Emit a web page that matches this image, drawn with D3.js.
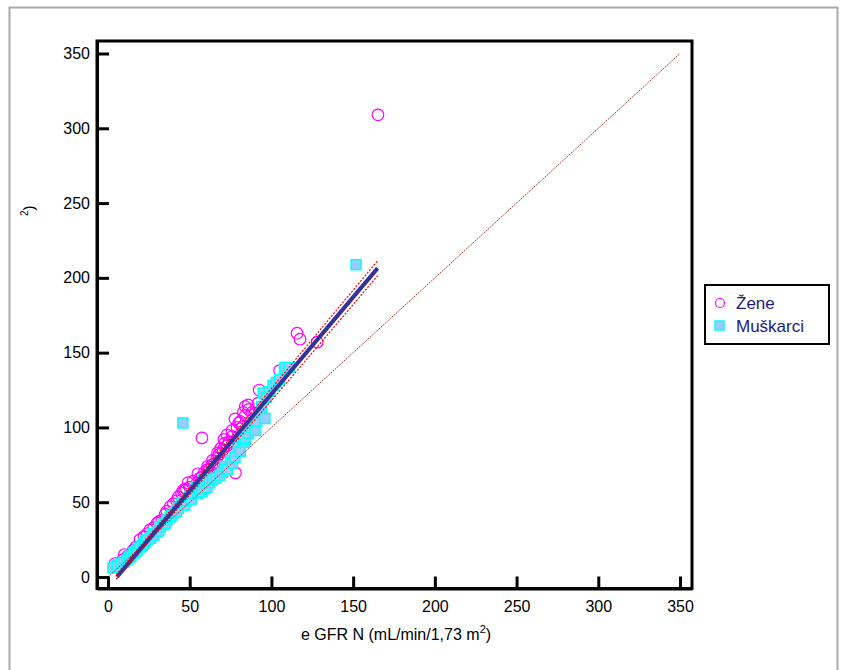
<!DOCTYPE html>
<html>
<head>
<meta charset="utf-8">
<script src="https://cdn.jsdelivr.net/npm/d3@7"></script>
<style>
  body { margin: 0; background: #fff; }
  svg { display: block; font-family: "Liberation Sans", Arial, Helvetica, sans-serif; }
</style>
</head>
<body>
<svg id="chart1"></svg>
<script>
// tick values on both axes
let tickVals = [0, 50, 100, 150, 200, 250, 300, 350];

// Zene (women): x = eGFR N, y = measured
let zeneX = [4.3, 7, 9, 10, 12, 15.5, 17, 19.6, 22, 24, 25.7, 28, 30, 31, 33, 35, 36, 38, 40, 42, 43, 45, 47, 46, 48, 49, 50, 52, 54.5, 55, 56, 57.5, 59, 60.6, 61, 62, 63.6, 64, 65, 66.7, 67, 68, 69, 70.4, 71, 71.6, 72.8, 73, 74, 75.9, 76, 77.7, 79, 80, 81, 82, 82.8, 84, 84, 85.8, 86, 88, 91.8, 92.5, 57.5, 78, 105, 115.7, 117.5, 128, 165.2];
let zeneY = [9, 8, 11.4, 15, 14, 18, 20, 25, 27, 29, 31.5, 33, 36, 37, 38, 42, 44, 47, 49, 51, 53.5, 56, 58, 58, 59, 63, 60, 64, 63, 69, 66, 67, 70, 71.6, 74, 72, 75, 78, 76, 79.6, 83, 82, 86, 85, 92, 89.6, 95, 88, 90, 98, 94, 105.7, 100, 103, 104, 100, 110, 108, 114, 115, 112, 110, 116, 125, 93, 69.6, 138, 163, 159, 157, 309];

// Muskarci (men)
let muskX = [3, 5.5, 6, 8, 10, 11.6, 13, 14, 15.5, 17, 18, 19.6, 21, 22, 23, 24, 26, 27.5, 28, 30, 31, 32, 34, 35, 36, 38, 39, 41, 42, 43, 45, 47, 48, 50, 51, 52, 54, 55, 56, 58, 57.5, 59, 60.5, 62, 64, 66, 68.5, 70, 71.6, 73, 75, 76, 77.7, 79.6, 81, 83, 84, 84, 86, 88, 90, 91, 94, 94, 95, 96, 97, 99, 101, 103, 105, 108, 108.5, 111, 45.8, 151.8];
let muskY = [6, 8, 7, 9, 10, 11.4, 13, 14, 16, 17, 18, 20, 21, 22, 24, 25, 26, 29, 28, 30, 31, 33.5, 35, 36, 38, 40, 41, 43, 44, 46, 49.5, 48, 51, 54, 52, 56, 60, 56, 58, 65, 57, 59, 60, 63, 65, 66, 68, 70, 74, 72, 78, 76, 80, 87, 84, 90, 92, 93, 96, 100, 98, 104, 110, 114, 123, 106, 120, 124, 128, 130, 132, 139, 140, 140, 103, 208.8];

// fitted line and its confidence band, read at a few x values
let fitX = [5.5, 165];
let fitY = [0, 206.5];
let bandX = [5, 50, 100, 165];
let bandUpper = [1.5, 60, 126, 211.5];
let bandLower = [-1.5, 55, 118, 201.5];
let identX = [0, 350];

let w = 843;
let h = 670;
let svg = d3.select('#chart1').attr('width', w).attr('height', h);

let xScale = d3.scaleLinear().domain([-6.73, 357.34]).range([97, 692]);
let yScale = d3.scaleLinear().domain([-7.69, 358.36]).range([588.5, 41]);

// outer grey frame
svg.append('rect')
  .attr('x', 9.5).attr('y', 7.5)
  .attr('width', 828).attr('height', 680)
  .attr('fill', 'none')
  .attr('stroke', '#aaaaaa')
  .attr('stroke-width', 2);

// plot frame
svg.append('rect')
  .attr('x', 97).attr('y', 41)
  .attr('width', 692 - 97).attr('height', 588.5 - 41)
  .attr('fill', 'none')
  .attr('stroke', '#000')
  .attr('stroke-width', 3);

let line = d3.line().x((d) => xScale(d[0])).y((d) => yScale(d[1]));

// circles first, squares over them
svg.append('g').selectAll('circle')
  .data(d3.zip(zeneX, zeneY))
  .enter()
  .append('circle')
  .attr('cx', (d) => xScale(d[0]))
  .attr('cy', (d) => yScale(d[1]))
  .attr('r', 5.8)
  .attr('fill', 'none')
  .attr('stroke', '#ff00ff')
  .attr('stroke-width', 1.2);

let sq = 10;
svg.append('g').selectAll('rect')
  .data(d3.zip(muskX, muskY))
  .enter()
  .append('rect')
  .attr('x', (d) => xScale(d[0]) - sq / 2)
  .attr('y', (d) => yScale(d[1]) - sq / 2)
  .attr('width', sq)
  .attr('height', sq)
  .attr('fill', '#99ccff')
  .attr('stroke', '#00ffff')
  .attr('stroke-width', 1.5);

// identity line
svg.append('path')
  .datum(identX.map((v) => [v, v]))
  .attr('d', line)
  .attr('fill', 'none')
  .attr('stroke', '#9b2c2c')
  .attr('stroke-width', 1)
  .attr('stroke-dasharray', '1.5,1');

// regression line
svg.append('path')
  .datum(d3.zip(fitX, fitY))
  .attr('d', line)
  .attr('fill', 'none')
  .attr('stroke', '#333399')
  .attr('stroke-width', 4);

// confidence band
[bandUpper, bandLower].forEach((b) => {
  svg.append('path')
    .datum(d3.zip(bandX, b))
    .attr('d', line.curve(d3.curveMonotoneX))
    .attr('fill', 'none')
    .attr('stroke', '#ff0000')
    .attr('stroke-width', 1.2)
    .attr('stroke-dasharray', '2,1.5');
});

// AXES
let xAxis = d3.axisBottom(xScale).tickValues(tickVals).tickSize(-12).tickSizeOuter(0).tickPadding(12);
let yAxis = d3.axisLeft(yScale).tickValues(tickVals).tickSize(-12).tickSizeOuter(0).tickPadding(7);

let xAxisGroup = svg.append('g')
  .attr('transform', 'translate(0, 588.5)')
  .call(xAxis);
let yAxisGroup = svg.append('g')
  .attr('transform', 'translate(97, 0)')
  .call(yAxis);

[xAxisGroup, yAxisGroup].forEach((g) => {
  g.select('.domain').attr('stroke-width', 3);
  g.selectAll('.tick line').attr('stroke-width', 3);
  g.selectAll('.tick text').attr('font-size', 16).attr('fill', '#000')
    .attr('font-family', '"Liberation Sans", Arial, sans-serif');
});

// axis titles
let xt = svg.append('text')
  .attr('x', 396).attr('y', 640)
  .attr('text-anchor', 'middle')
  .attr('font-size', 16);
xt.append('tspan').text('e GFR N (mL/min/1,73 m');
xt.append('tspan').attr('font-size', 11).attr('dy', -7).text('2');
xt.append('tspan').attr('dy', 7).text(')');

let yt = svg.append('text')
  .attr('transform', 'translate(34, 216) rotate(-90)')
  .attr('font-size', 15);
yt.append('tspan').attr('font-size', 10).attr('dy', -6).text('2');
yt.append('tspan').attr('dy', 6).text(')');

// legend
let legend = svg.append('g').attr('transform', 'translate(705, 285)');
legend.append('rect')
  .attr('width', 124).attr('height', 59)
  .attr('fill', '#fff')
  .attr('stroke', '#000')
  .attr('stroke-width', 2);
legend.append('circle')
  .attr('cx', 15).attr('cy', 18).attr('r', 4.5)
  .attr('fill', 'none').attr('stroke', '#ff00ff').attr('stroke-width', 1.2);
legend.append('rect')
  .attr('x', 10).attr('y', 36).attr('width', 9).attr('height', 9)
  .attr('fill', '#99ccff').attr('stroke', '#00ffff').attr('stroke-width', 1.5);
legend.append('text').attr('x', 31).attr('y', 24).attr('font-size', 17).attr('fill', '#1a1a80').text('Žene');
legend.append('text').attr('x', 31).attr('y', 47).attr('font-size', 17).attr('fill', '#1a1a80').text('Muškarci');
</script>
</body>
</html>
